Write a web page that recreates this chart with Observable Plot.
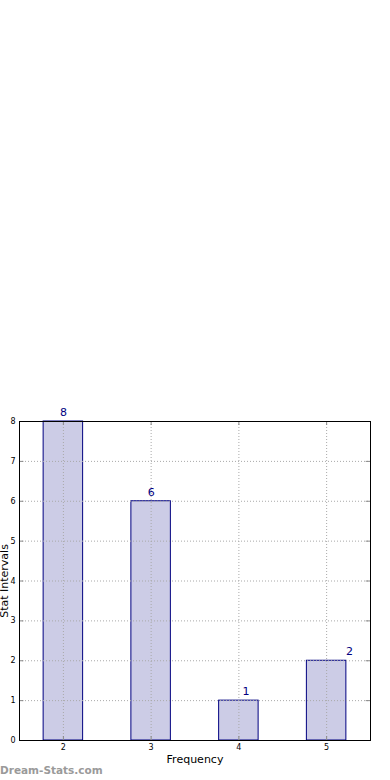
<!DOCTYPE html>
<html><head><meta charset="utf-8">
<script src="https://cdn.jsdelivr.net/npm/d3@7"></script>
<script src="https://cdn.jsdelivr.net/npm/@observablehq/plot@0.6"></script>
<style>
body{margin:0;background:#fff;font-family:"DejaVu Sans",sans-serif}
#wrap{position:relative;width:390px;height:780px;overflow:hidden}
#wm{position:absolute;left:0;top:763px;font:bold 10.5px "DejaVu Sans",sans-serif;line-height:14px;color:#9a9a9a;white-space:nowrap}
</style>
</head><body>
<div id="wrap"><div id="chart"></div><div id="wm">Dream-Stats.com</div></div>
<script>
const categories = [2, 3, 4, 5];
const counts = [8, 6, 1, 2];
const labelX = [2, 3, 4.08, 5.26];
const xTicks = [2, 3, 4, 5];
const yTicks = [0, 1, 2, 3, 4, 5, 6, 7, 8];
const xLabel = "Frequency";
const yLabel = "Stat Intervals";

const data = categories.map((c, i) => ({c, n: counts[i], lx: labelX[i]}));
const barHalf = 0.225;

const chart = Plot.plot({
  width: 390, height: 780,
  marginTop: 421, marginLeft: 19, marginRight: 20, marginBottom: 40,
  style: {fontFamily: "DejaVu Sans, sans-serif", background: "#fff"},
  x: {type: "linear", domain: [1.5, 5.5]},
  y: {domain: [0, 8]},
  marks: [
    Plot.rectY(data, {x1: d => d.c - barHalf, x2: d => d.c + barHalf, y: "n", fill: "#ccccE6", stroke: "#000080", strokeWidth: 1}),
    Plot.ruleX(xTicks, {x: d => d, stroke: "#a8a8a8", strokeDasharray: "1,2"}),
    Plot.ruleY(yTicks, {y: d => d, stroke: "#a8a8a8", strokeDasharray: "1,2"}),
    Plot.ruleX(xTicks, {x: d => d, y1: 0, y2: 0.1, stroke: "#888"}),
    Plot.ruleX(xTicks, {x: d => d, y1: 7.9, y2: 8, stroke: "#888"}),
    Plot.ruleY(yTicks, {y: d => d, x1: 1.5, x2: 1.55, stroke: "#888"}),
    Plot.ruleY(yTicks, {y: d => d, x1: 5.45, x2: 5.5, stroke: "#888"}),
    Plot.frame({stroke: "#000", strokeWidth: 1}),
    Plot.axisX(xTicks, {tickSize: 0, tickPadding: 4, fontSize: 8, fill: "#000", label: null}),
    Plot.axisY(yTicks, {tickSize: 0, tickPadding: 4, fontSize: 8, fill: "#000", label: null}),
    Plot.text(data, {x: "lx", y: "n", text: d => String(d.n), dy: -9, fill: "#000080", fontSize: 11}),
    Plot.text([xLabel], {frameAnchor: "bottom", text: d => d, dy: 15, lineAnchor: "top", fontSize: 11, fill: "#000"}),
    Plot.text([yLabel], {frameAnchor: "left", text: d => d, rotate: -90, textAnchor: "middle", dx: -15, fontSize: 11, fill: "#000"})
  ]
});
document.getElementById("chart").appendChild(chart);
</script>
</body></html>
